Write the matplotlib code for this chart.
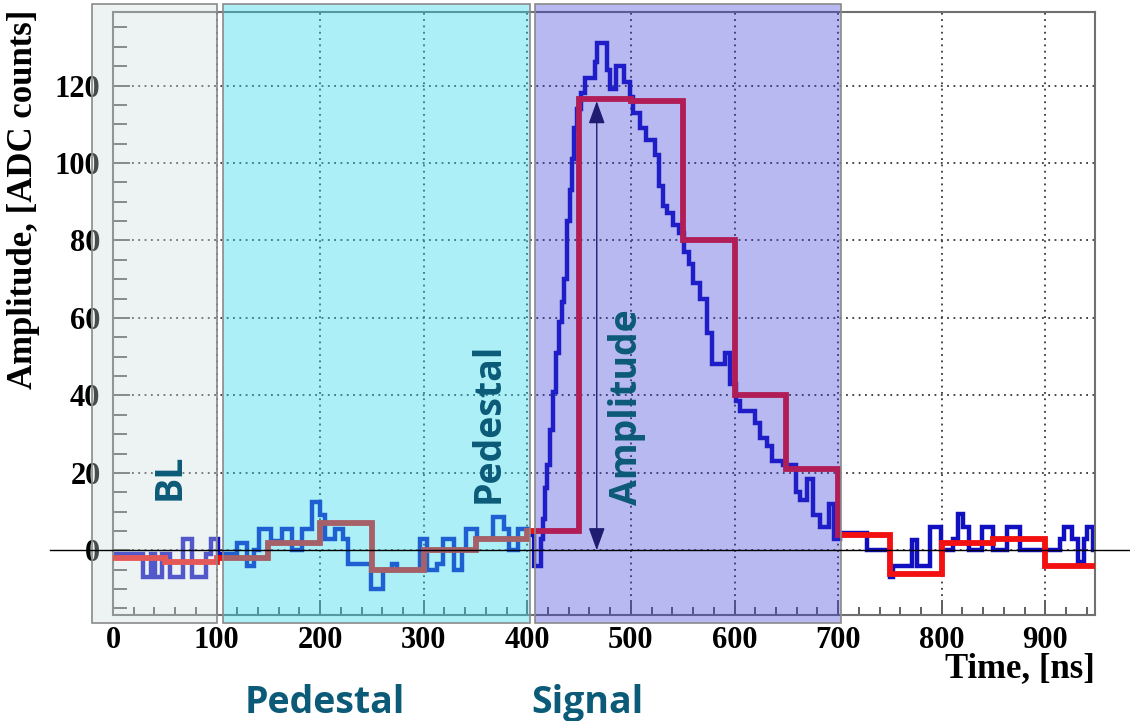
import numpy as np
import matplotlib
matplotlib.use("Agg")
import matplotlib.pyplot as plt
import matplotlib.transforms as mtransforms
from matplotlib.patches import Rectangle
from matplotlib.lines import Line2D
from matplotlib.ticker import MultipleLocator

# digitised waveform: start time of each step (ns) and its level (ADC counts)
wave_t = [0, 29, 37, 41, 47, 55, 68, 76, 90, 95,
          101, 120, 129, 136, 141, 153, 163, 173, 182, 192,
          200, 205, 214, 222, 227, 249, 261, 269, 274, 296,
          303, 313, 319, 329, 337, 341, 351, 367, 377, 382,
          391, 401, 406, 413, 415, 417, 419, 422, 425, 428,
          431, 433, 435, 438, 441, 443, 445, 448, 452, 456,
          465, 467, 477, 480, 486, 493, 499, 502, 509, 515,
          523, 527, 531, 535, 541, 546, 551, 556, 560, 567,
          573, 578, 591, 596, 601, 605, 620, 625, 631, 636,
          647, 659, 663, 670, 676, 683, 691, 696, 702, 728,
          750, 753, 771, 776, 789, 799, 811, 816, 821, 826,
          839, 850, 863, 876, 914, 918, 926, 932, 937, 940,
          946]
wave_adc = [-1, -7, -1, -7, -1, -7, 3, -7, -1, 3,
            -1, 2, -4, 0, 5.5, 2.5, 5.5, 0, 5.5, 12.5,
            9, 3, 5.5, 3, -3.5, -10, -5, -3.5, -5, 3,
            -5, -3.5, 3, -5, 0, 5.5, 3, 8.7, 5.5, 0,
            5.5, 4, -4, 3, 8, 16, 22, 31, 41, 51,
            59, 64, 70, 85, 93, 101, 109, 114, 118, 122,
            126, 131, 124, 119, 125, 121, 117, 113, 109, 106,
            102, 94, 89, 87, 84, 82, 77, 74, 69, 65,
            56, 48, 51, 43, 38.5, 36, 33, 29, 27, 23,
            22, 15, 13, 18.5, 9, 6, 12, 3, 4.5, 0,
            -7, -4, 2.6, -4, 6, 0, 3, 9.5, 6, 0,
            6, 0, 6, 0, 3, 6, 3, -3, 3, 6,
            0]
wave_end = 950

# 50 ns integrated samples
samp_edges = [0, 50, 100, 150, 200, 250, 300, 350, 400, 450,
              500, 550, 600, 650, 700, 750, 800, 850, 900, 950]
samp_adc = [-2, -3, -2, 2, 7, -5, 0, 3, 5, 116.5,
            116, 80, 40, 21, 4, -6, 2, 3, -4]

# analysis windows (ns) drawn as shaded bands
region_bounds = [(-20, 100.5), (106, 403), (407.5, 703)]
region_faces = [("#cedfdf", 0.35), ("#34d9ed", 0.40), ("#3938d9", 0.35)]

amp_time = 467
amp_value = 116

label_color = "#0b5a78"

plt.rcParams["font.family"] = ["Liberation Serif", "DejaVu Serif"]
plt.rcParams["font.weight"] = "bold"

fig = plt.figure(figsize=(11.3, 7.21), dpi=100)
ax = fig.add_axes([113 / 1130, 1 - 615 / 721, 982 / 1130, 603 / 721])

ax.stairs(wave_adc, wave_t + [wave_end], baseline=None,
          color="#1010c0", lw=3.2, zorder=2)
ax.stairs(samp_adc, samp_edges, baseline=None,
          color="#f21010", lw=4.2, zorder=3)

ax.set_xlim(0, 948)
ax.set_ylim(-16.7, 139)

ax.xaxis.set_major_locator(MultipleLocator(100))
ax.xaxis.set_minor_locator(MultipleLocator(20))
ax.yaxis.set_major_locator(MultipleLocator(20))
ax.yaxis.set_minor_locator(MultipleLocator(5))
ax.tick_params(axis="both", which="both", direction="in", color="#606060", width=1.4)
ax.tick_params(axis="y", which="major", length=12, labelsize=22, pad=9)
ax.tick_params(axis="y", which="minor", length=10)
ax.tick_params(axis="x", which="major", length=11, labelsize=22, pad=8)
ax.tick_params(axis="x", which="minor", length=6)
ax.grid(True, which="major", color="#383838", linestyle=(0, (1, 2.5)), lw=1.3)

for sp in ax.spines.values():
    sp.set_color("#707070")
    sp.set_linewidth(1.5)

ax.set_ylabel("Amplitude, [ADC counts]", fontsize=25, fontweight="bold")
ax.yaxis.set_label_coords(-0.074, 0.69)
ax.set_xlabel("Time, [ns]", fontsize=25, fontweight="bold")
ax.xaxis.set_label_coords(1.0, -0.062)
ax.xaxis.label.set_ha("right")

# amplitude marker from baseline to the peak sample
ax.annotate("", xy=(amp_time, amp_value), xytext=(amp_time, 0),
            arrowprops=dict(arrowstyle="<|-|>,head_length=0.5,head_width=0.18",
                            mutation_scale=28, color="#10103c", lw=1,
                            shrinkA=0, shrinkB=0), zorder=4)

# shaded windows sit above the plot, tick labels included
for (x0, x1), (fc, a) in zip(region_bounds, region_faces):
    face = matplotlib.colors.to_rgba(fc, a)
    rect = Rectangle((x0, -18.8), x1 - x0, 159.8, transform=ax.transData,
                     facecolor=face, edgecolor="#8a8a8a", lw=1.2,
                     clip_on=False, zorder=1)
    fig.add_artist(rect)

# zero reference line across the whole figure
zero_tr = mtransforms.blended_transform_factory(fig.transFigure, ax.transData)
fig.add_artist(Line2D([50 / 1130, 1], [0, 0], transform=zero_tr,
                      color="black", lw=1, zorder=2))

txt = dict(color=label_color, fontsize=27, fontweight="bold",
           family=["Open Sans", "DejaVu Sans"], ha="center", va="center",
           transform=ax.transData, zorder=3)
fig.text(55, 19, "BL", rotation=90, **txt)
fig.text(363, 33, "Pedestal", rotation=90, **txt)
fig.text(496, 37, "Amplitude", rotation=90, **txt)
fig.text(204, -39.5, "Pedestal", **txt)
fig.text(458, -39.5, "Signal", **txt)

fig.savefig("out.png", dpi=100)
